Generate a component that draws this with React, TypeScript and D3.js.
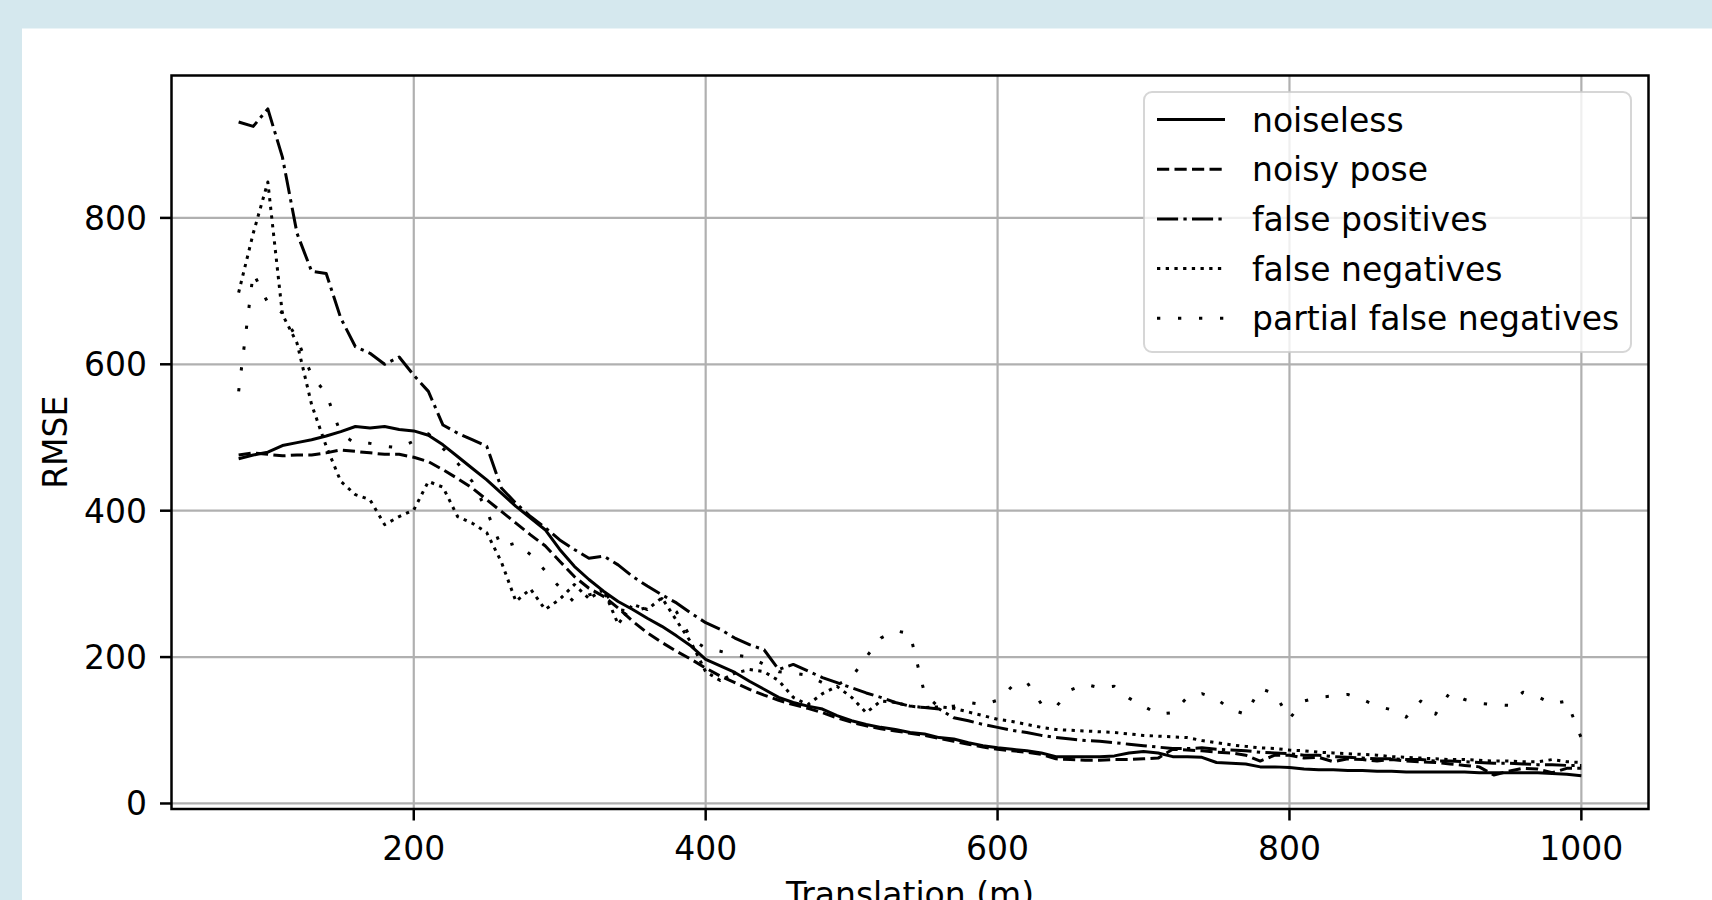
import React, { useRef, useEffect } from 'react';
import * as d3 from 'd3';

// translation sampled every 10 m, from 80 to 1000
const translation: number[] = d3.range(80, 1010, 10);

const noiseless = [
  471, 476, 480, 489, 493, 497, 502, 508, 515, 513,
  515, 511, 509, 503, 490, 474, 458, 442, 424, 406,
  390, 374, 347, 324, 306, 290, 276, 265, 253, 242,
  229, 215, 197, 188, 179, 167, 156, 145, 138, 133,
  129, 120, 113, 108, 104, 101, 97, 95, 90, 88,
  83, 79, 76, 74, 72, 69, 64, 64, 64, 64,
  65, 69, 71, 69, 64, 64, 63, 56, 55, 54,
  50, 50, 49, 47, 46, 46, 45, 45, 44, 44,
  43, 43, 43, 43, 43, 42, 42, 42, 42, 42,
  41, 40, 38,
];

const noisyPose = [
  476, 479, 477, 475, 476, 476, 479, 483, 481, 479,
  477, 477, 473, 467, 456, 444, 431, 415, 399, 383,
  367, 352, 331, 310, 294, 283, 267, 249, 233, 220,
  208, 197, 185, 174, 165, 156, 148, 141, 135, 130,
  124, 117, 111, 106, 102, 99, 96, 93, 89, 85,
  81, 77, 74, 72, 70, 67, 61, 60, 59, 59,
  60, 60, 61, 62, 74, 73, 72, 70, 69, 66,
  58, 66, 66, 62, 63, 57, 61, 60, 58, 60,
  58, 57, 56, 54, 52, 50, 39, 44, 48, 47,
  42, 48, 48,
];

const falsePositives = [
  931, 925, 949, 883, 779, 727, 724, 663, 624, 615,
  600, 610, 585, 563, 517, 506, 497, 488, 431, 410,
  392, 377, 360, 347, 335, 338, 326, 310, 297, 285,
  274, 260, 247, 238, 226, 217, 210, 183, 190, 181,
  172, 165, 158, 151, 145, 138, 133, 131, 129, 117,
  113, 108, 104, 100, 97, 93, 90, 88, 86, 85,
  83, 81, 79, 77, 75, 75, 76, 74, 73, 72,
  70, 69, 68, 66, 66, 64, 63, 62, 61, 61,
  60, 60, 58, 58, 57, 56, 55, 55, 54, 53,
  53, 52, 52,
];

const falseNegatives = [
  698, 779, 849, 668, 629, 545, 488, 440, 422, 415,
  381, 392, 401, 440, 432, 392, 383, 370, 330, 276,
  293, 265, 279, 299, 280, 292, 245, 272, 265, 281,
  250, 220, 180, 168, 178, 183, 180, 168, 145, 135,
  150, 160, 145, 124, 140, 138, 133, 131, 132, 130,
  125, 120, 115, 112, 108, 104, 101, 100, 99, 98,
  97, 95, 93, 92, 91, 90, 86, 83, 80, 78,
  76, 75, 73, 72, 70, 69, 68, 67, 66, 64,
  63, 62, 61, 60, 60, 59, 58, 58, 57, 57,
  60, 57, 56,
];

const partialFalseNegatives = [
  563, 725, 684, 670, 635, 585, 560, 505, 492, 492,
  488, 486, 495, 505, 485, 465, 440, 400, 350, 356,
  340, 318, 295, 275, 285, 290, 265, 262, 268, 280,
  262, 225, 212, 208, 203, 200, 190, 180, 178, 175,
  165, 162, 172, 200, 226, 236, 232, 150, 131, 133,
  138, 135, 141, 160, 166, 136, 132, 155, 163, 158,
  160, 144, 133, 122, 124, 145, 150, 143, 128, 122,
  157, 150, 116, 140, 145, 147, 149, 142, 133, 128,
  118, 140, 122, 152, 142, 137, 135, 134, 152, 146,
  136, 140, 89,
];

const xTicks = [200, 400, 600, 800, 1000];
const yTicks = [0, 200, 400, 600, 800];

const series = [
  { label: 'noiseless', values: noiseless, dash: null },
  { label: 'noisy pose', values: noisyPose, dash: '12.2 5.3' },
  { label: 'false positives', values: falsePositives, dash: '21.1 5.3 3.3 5.3' },
  { label: 'false negatives', values: falseNegatives, dash: '3.3 5.4' },
  { label: 'partial false negatives', values: partialFalseNegatives, dash: '3.3 17.7' },
];

const W = 1712;
const H = 900;
const FONT = '"DejaVu Sans", sans-serif';
const FS = 33;

const App = () => {
  const ref = useRef<SVGSVGElement>(null);

  useEffect(() => {
    const plot = { left: 171.5, top: 75.5, right: 1648.5, bottom: 809 };

    const svg = d3.select(ref.current);
    svg.selectAll('*').remove();

    // background + white card
    svg.append('rect').attr('width', W).attr('height', H).attr('fill', '#d5e8ee');
    svg.append('rect').attr('x', 22).attr('y', 28.5)
      .attr('width', W - 22).attr('height', H - 28.5).attr('fill', '#ffffff');

    // matplotlib-like 5% margins
    const [x0, x1] = d3.extent(translation) as [number, number];
    const allY = series.flatMap(s => s.values);
    const [y0, y1] = d3.extent(allY) as [number, number];
    const xPad = (x1 - x0) * 0.05;
    const yPad = (y1 - y0) * 0.05;

    const xScale = d3.scaleLinear()
      .domain([x0 - xPad, x1 + xPad])
      .range([plot.left, plot.right]);

    const yScale = d3.scaleLinear()
      .domain([y0 - yPad, y1 + yPad])
      .range([plot.bottom, plot.top]);

    const g = svg.append('g');

    // grid
    g.selectAll('.gx').data(xTicks).enter().append('line')
      .attr('x1', d => xScale(d)).attr('x2', d => xScale(d))
      .attr('y1', plot.top).attr('y2', plot.bottom)
      .attr('stroke', '#b0b0b0').attr('stroke-width', 2.2);
    g.selectAll('.gy').data(yTicks).enter().append('line')
      .attr('y1', d => yScale(d)).attr('y2', d => yScale(d))
      .attr('x1', plot.left).attr('x2', plot.right)
      .attr('stroke', '#b0b0b0').attr('stroke-width', 2.2);

    // series
    const line = d3.line<number>()
      .x((_, i) => xScale(translation[i]))
      .y(d => yScale(d));

    series.forEach(s => {
      g.append('path')
        .attr('d', line(s.values))
        .attr('fill', 'none')
        .attr('stroke', '#000')
        .attr('stroke-width', 3)
        .attr('stroke-linejoin', 'round')
        .attr('stroke-dasharray', s.dash);
    });

    // spines
    g.append('rect')
      .attr('x', plot.left).attr('y', plot.top)
      .attr('width', plot.right - plot.left).attr('height', plot.bottom - plot.top)
      .attr('fill', 'none').attr('stroke', '#000').attr('stroke-width', 2.5);

    // x ticks
    xTicks.forEach(t => {
      g.append('line')
        .attr('x1', xScale(t)).attr('x2', xScale(t))
        .attr('y1', plot.bottom).attr('y2', plot.bottom + 11.5)
        .attr('stroke', '#000').attr('stroke-width', 2.5);
      g.append('text')
        .attr('x', xScale(t)).attr('y', 860)
        .attr('text-anchor', 'middle')
        .style('font-family', FONT).style('font-size', `${FS}px`)
        .text(t);
    });

    // y ticks
    yTicks.forEach(t => {
      g.append('line')
        .attr('x1', plot.left - 11.5).attr('x2', plot.left)
        .attr('y1', yScale(t)).attr('y2', yScale(t))
        .attr('stroke', '#000').attr('stroke-width', 2.5);
      g.append('text')
        .attr('x', 147).attr('y', yScale(t) + 12)
        .attr('text-anchor', 'end')
        .style('font-family', FONT).style('font-size', `${FS}px`)
        .text(t);
    });

    // axis labels (x label is cut by the frame edge, as in the source)
    g.append('text')
      .attr('x', (plot.left + plot.right) / 2).attr('y', 906)
      .attr('text-anchor', 'middle')
      .style('font-family', FONT).style('font-size', `${FS}px`)
      .text('Translation (m)');

    g.append('text')
      .attr('transform', `translate(67,${(plot.top + plot.bottom) / 2}) rotate(-90)`)
      .attr('text-anchor', 'middle')
      .style('font-family', FONT).style('font-size', `${FS}px`)
      .text('RMSE');

    // legend
    const legend = g.append('g');
    legend.append('rect')
      .attr('x', 1144).attr('y', 92).attr('width', 487).attr('height', 260)
      .attr('rx', 8)
      .attr('fill', '#fff').attr('fill-opacity', 0.8)
      .attr('stroke', '#cccccc').attr('stroke-opacity', 0.8).attr('stroke-width', 2);

    series.forEach((s, i) => {
      const y = 119.5 + i * 49.7;
      legend.append('line')
        .attr('x1', 1157).attr('x2', 1225)
        .attr('y1', y).attr('y2', y)
        .attr('stroke', '#000').attr('stroke-width', 3)
        .attr('stroke-dasharray', s.dash);
      legend.append('text')
        .attr('x', 1252).attr('y', y + 12)
        .style('font-family', FONT).style('font-size', `${FS}px`)
        .text(s.label);
    });
  }, []);

  return (
    <svg
      ref={ref}
      width={W}
      height={H}
      style={{ position: 'absolute', left: 0, top: 0, display: 'block' }}
    />
  );
};

export default App;
